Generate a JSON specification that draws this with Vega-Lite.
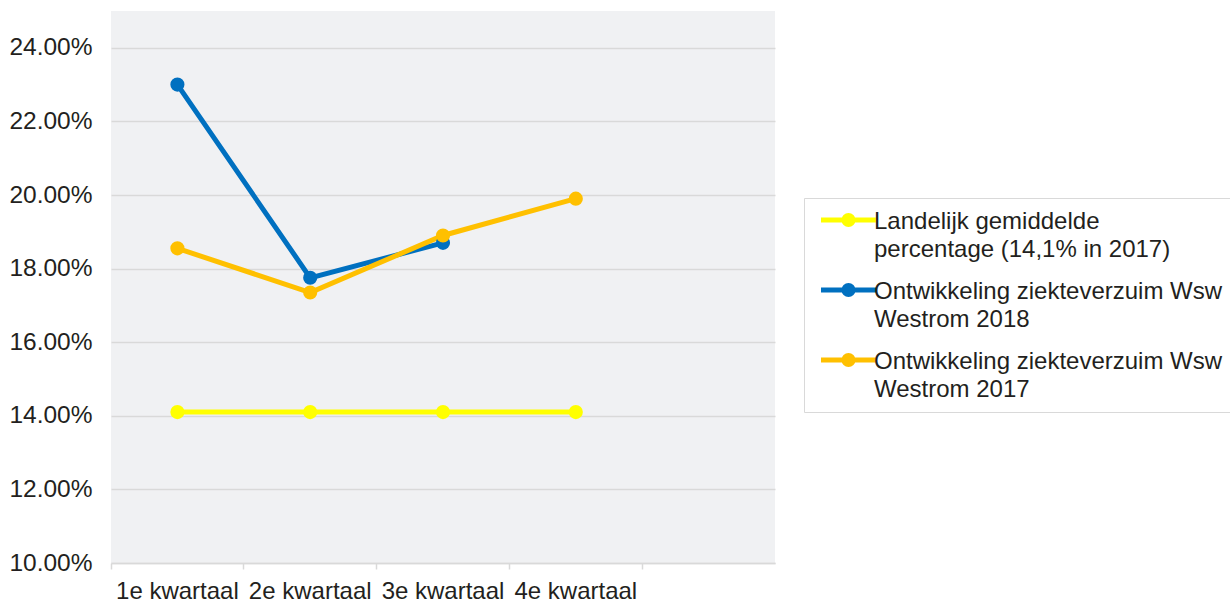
{
  "$schema": "https://vega.github.io/schema/vega-lite/v6.json",
  "width": 664,
  "height": 552,
  "autosize": "none",
  "padding": {"left": 111, "top": 11, "right": 455, "bottom": 43},
  "background": "white",
  "config": {"view": {"fill": "#f0f1f3", "stroke": null}, "font": "Liberation Sans"},
  "data": {"values": [
    {"kwartaal": "1e kwartaal", "serie": "Landelijk gemiddelde percentage (14,1% in 2017)", "waarde": 0.141},
    {"kwartaal": "2e kwartaal", "serie": "Landelijk gemiddelde percentage (14,1% in 2017)", "waarde": 0.141},
    {"kwartaal": "3e kwartaal", "serie": "Landelijk gemiddelde percentage (14,1% in 2017)", "waarde": 0.141},
    {"kwartaal": "4e kwartaal", "serie": "Landelijk gemiddelde percentage (14,1% in 2017)", "waarde": 0.141},
    {"kwartaal": "1e kwartaal", "serie": "Ontwikkeling ziekteverzuim Wsw Westrom 2018", "waarde": 0.230},
    {"kwartaal": "2e kwartaal", "serie": "Ontwikkeling ziekteverzuim Wsw Westrom 2018", "waarde": 0.1775},
    {"kwartaal": "3e kwartaal", "serie": "Ontwikkeling ziekteverzuim Wsw Westrom 2018", "waarde": 0.187},
    {"kwartaal": "1e kwartaal", "serie": "Ontwikkeling ziekteverzuim Wsw Westrom 2017", "waarde": 0.1855},
    {"kwartaal": "2e kwartaal", "serie": "Ontwikkeling ziekteverzuim Wsw Westrom 2017", "waarde": 0.1735},
    {"kwartaal": "3e kwartaal", "serie": "Ontwikkeling ziekteverzuim Wsw Westrom 2017", "waarde": 0.189},
    {"kwartaal": "4e kwartaal", "serie": "Ontwikkeling ziekteverzuim Wsw Westrom 2017", "waarde": 0.199}
  ]},
  "mark": {"type": "line", "strokeWidth": 5, "point": {"size": 200, "filled": true, "opacity": 1}},
  "encoding": {
    "x": {
      "field": "kwartaal", "type": "nominal", "bandPosition": 0.5,
      "scale": {"type": "band", "domain": ["1e kwartaal", "2e kwartaal", "3e kwartaal", "4e kwartaal", " "], "paddingInner": 0, "paddingOuter": 0},
      "axis": {"title": null, "bandPosition": 0, "labelAngle": 0, "grid": false,
        "domainColor": "#d9d9d9", "domainWidth": 1.5, "tickColor": "#d9d9d9", "tickWidth": 1.5, "tickSize": 6,
        "labelFontSize": 24, "labelColor": "#231f20", "labelPadding": 10, "labelLimit": 0}
    },
    "y": {
      "field": "waarde", "type": "quantitative",
      "scale": {"domain": [0.1, 0.25], "nice": false, "zero": false},
      "axis": {"title": null, "format": ".2%", "values": [0.10, 0.12, 0.14, 0.16, 0.18, 0.20, 0.22, 0.24],
        "domain": false, "ticks": false, "labelPadding": 19, "labelFontSize": 24.5, "labelColor": "#231f20",
        "gridColor": "#d9d9d9", "gridWidth": 1.5}
    },
    "color": {
      "field": "serie", "type": "nominal",
      "scale": {"domain": ["Landelijk gemiddelde percentage (14,1% in 2017)", "Ontwikkeling ziekteverzuim Wsw Westrom 2018", "Ontwikkeling ziekteverzuim Wsw Westrom 2017"],
        "range": ["#ffff00", "#0070c0", "#ffc000"]},
      "legend": {
        "title": null, "orient": "none", "legendX": 693, "legendY": 187,
        "fillColor": "white", "strokeColor": "#d9d9d9", "padding": 10,
        "labelFontSize": 24, "labelColor": "#231f20", "labelLimit": 0, "labelOffset": 36,
        "symbolType": "M -1 0 H 10 M 5.4 0 A 0.9 0.9 0 1 1 3.6 0 A 0.9 0.9 0 1 1 5.4 0 Z",
        "symbolSize": 100, "symbolStrokeWidth": 5, "rowPadding": 13,
        "labelExpr": "datum.label == 'Landelijk gemiddelde percentage (14,1% in 2017)' ? ['Landelijk gemiddelde', 'percentage (14,1% in 2017)'] : [slice(datum.label, 0, 30), slice(datum.label, 31)]",
        "encode": {
          "symbols": {"update": {"fill": {"scale": "color", "field": "value"}, "stroke": {"scale": "color", "field": "value"}, "opacity": {"value": 1}}},
          "labels": {"update": {"lineHeight": {"value": 28}, "dy": {"value": 2}}}
        }
      }
    }
  }
}
